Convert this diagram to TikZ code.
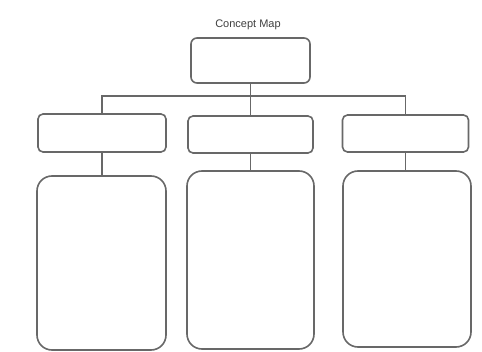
\documentclass[tikz,border=0pt]{standalone}
\usepackage{fontspec}
\setmainfont{Liberation Sans}
\definecolor{edge}{HTML}{686868}
\begin{document}
\begin{tikzpicture}[x=1pt,y=-1pt,
  boxline/.style={draw=edge,line width=1.6pt},
  smallbox/.style={boxline,rectangle,rounded corners=5pt,inner sep=0pt},
  bigbox/.style={boxline,rectangle,rounded corners=15pt,inner sep=0pt},
  link/.style={draw=edge,line width=1.6pt}]
\useasboundingbox[fill=white] (0,0) rectangle (482,352);
\node[font=\fontsize{11}{13}\selectfont,text=black!75] (title) at (248,25) {Concept Map};
\node[smallbox,rounded corners=6pt,minimum width=119pt,minimum height=45pt] (top) at (250.5,60.5) {};
\node[smallbox,minimum width=128pt,minimum height=38pt] (l1) at (102,133) {};
\node[smallbox,minimum width=125pt,minimum height=37pt] (m1) at (250.5,134.5) {};
\node[smallbox,minimum width=126pt,minimum height=37pt] (r1) at (405.5,133.5) {};
\node[bigbox,minimum width=129pt,minimum height=174pt] (l2) at (101.5,263) {};
\node[bigbox,minimum width=127pt,minimum height=178pt] (m2) at (250.5,260) {};
\node[bigbox,minimum width=128pt,minimum height=176pt] (r2) at (407,259) {};
\coordinate (bar) at (250.5,96);
\draw[link] (top.south) -- (m1.north);
\draw[link] (l1.north) |- (bar) -| (r1.north);
\draw[link] (l1.south) -- (l1.south |- l2.north);
\draw[link] (m1.south) -- (m1.south |- m2.north);
\draw[link] (r1.south) -- (r1.south |- r2.north);
\end{tikzpicture}
\end{document}
